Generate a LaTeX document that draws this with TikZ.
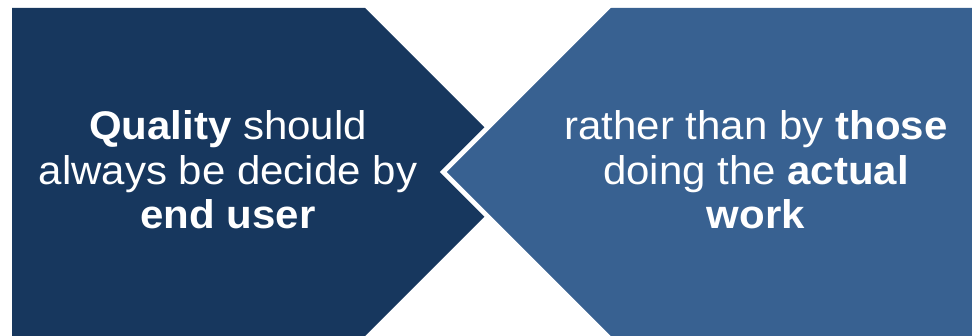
\documentclass[tikz,border=0pt]{standalone}
\usepackage{fontspec}
\setmainfont{Liberation Sans}[FakeStretch=1.05]
\definecolor{darkblue}{HTML}{17375E}
\definecolor{midblue}{HTML}{386191}
\tikzset{
  txt/.style={text=white, anchor=base, inner sep=0pt, font=\fontsize{40}{44}\selectfont},
  gapline/.style={draw=white, line width=4.7pt, line join=miter}
}
\begin{document}
\begin{tikzpicture}[x=1pt,y=-1pt]
\useasboundingbox (0,0) rectangle (972,336);
\begin{scope}
\clip (0,0) rectangle (972,336);
\fill[darkblue] (12,8) -- (365,8) -- (529,172) -- (357,344) -- (12,344) -- cycle;
\fill[midblue] (607.3,8) -- (990,8) -- (990,344) -- (615.3,344) -- (443.3,172) -- cycle;
\draw[gapline] (615.3,0) -- (443.3,172) -- (615.3,344);
\end{scope}
\node[txt] (l1) at (228,140) {\textbf{Quality} should};
\node[txt] (l2) at (228,184.5) {always be decide by};
\node[txt] (l3) at (228,228.5) {\textbf{end user}};
\node[txt] (r1) at (756,140) {rather than by \textbf{those}};
\node[txt] (r2) at (756,184.5) {doing the \textbf{actual}};
\node[txt] (r3) at (756,228.5) {\textbf{work}};
\end{tikzpicture}
\end{document}
